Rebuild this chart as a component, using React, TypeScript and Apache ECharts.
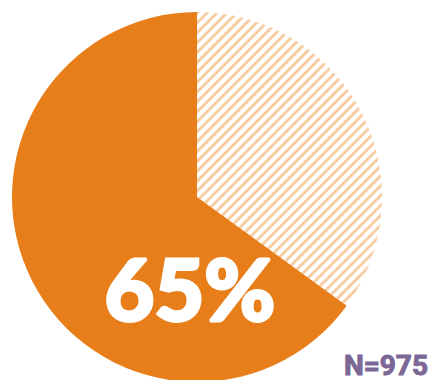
import React, { useEffect, useRef } from "react";
import * as echarts from "echarts";

const categories = ["Other", "Yes"];
const values = [35, 65];
const mainLabel = "65%";
const sampleLabel = "N=975";

export default function App() {
  const ref = useRef<HTMLDivElement>(null);
  useEffect(() => {
    document.body.style.margin = "0";
    const chart = echarts.init(ref.current!, undefined, { renderer: "svg" });
    chart.setOption({
      animation: false,
      aria: { enabled: false },
      series: [
        {
          type: "pie",
          center: [197, 197],
          radius: [0, 185],
          startAngle: 90,
          clockwise: true,
          label: { show: false },
          labelLine: { show: false },
          emphasis: { disabled: true },
          data: categories.map((c, i) => ({
            name: c,
            value: values[i],
            itemStyle:
              i === 0
                ? {
                    color: "#ffffff",
                    borderWidth: 0,
                    decal: {
                      symbol: "rect",
                      symbolSize: 1,
                      color: "#f7cda3",
                      backgroundColor: "#ffffff",
                      dashArrayX: [1, 0],
                      dashArrayY: [2.5, 3.5],
                      rotation: -Math.PI / 4,
                    },
                  }
                : { color: "#e77e19", borderWidth: 0 },
          })),
        },
      ],
      graphic: [
        {
          type: "text",
          z: 100,
          x: 190,
          y: 330,
          style: {
            text: mainLabel,
            fill: "#ffffff",
            stroke: "#ffffff",
            lineWidth: 3,
            font: "900 86px Lato",
            textAlign: "center",
            textVerticalAlign: "bottom",
          },
        },
        {
          type: "text",
          z: 100,
          x: 428,
          y: 379,
          style: {
            text: sampleLabel,
            fill: "#7b6896",
            stroke: "#7b6896",
            lineWidth: 1,
            font: "bold 28px Roboto",
            textAlign: "right",
            textVerticalAlign: "bottom",
          },
        },
      ],
    });
    return () => chart.dispose();
  }, []);
  return <div ref={ref} style={{ width: 430, height: 380 }} />;
}
